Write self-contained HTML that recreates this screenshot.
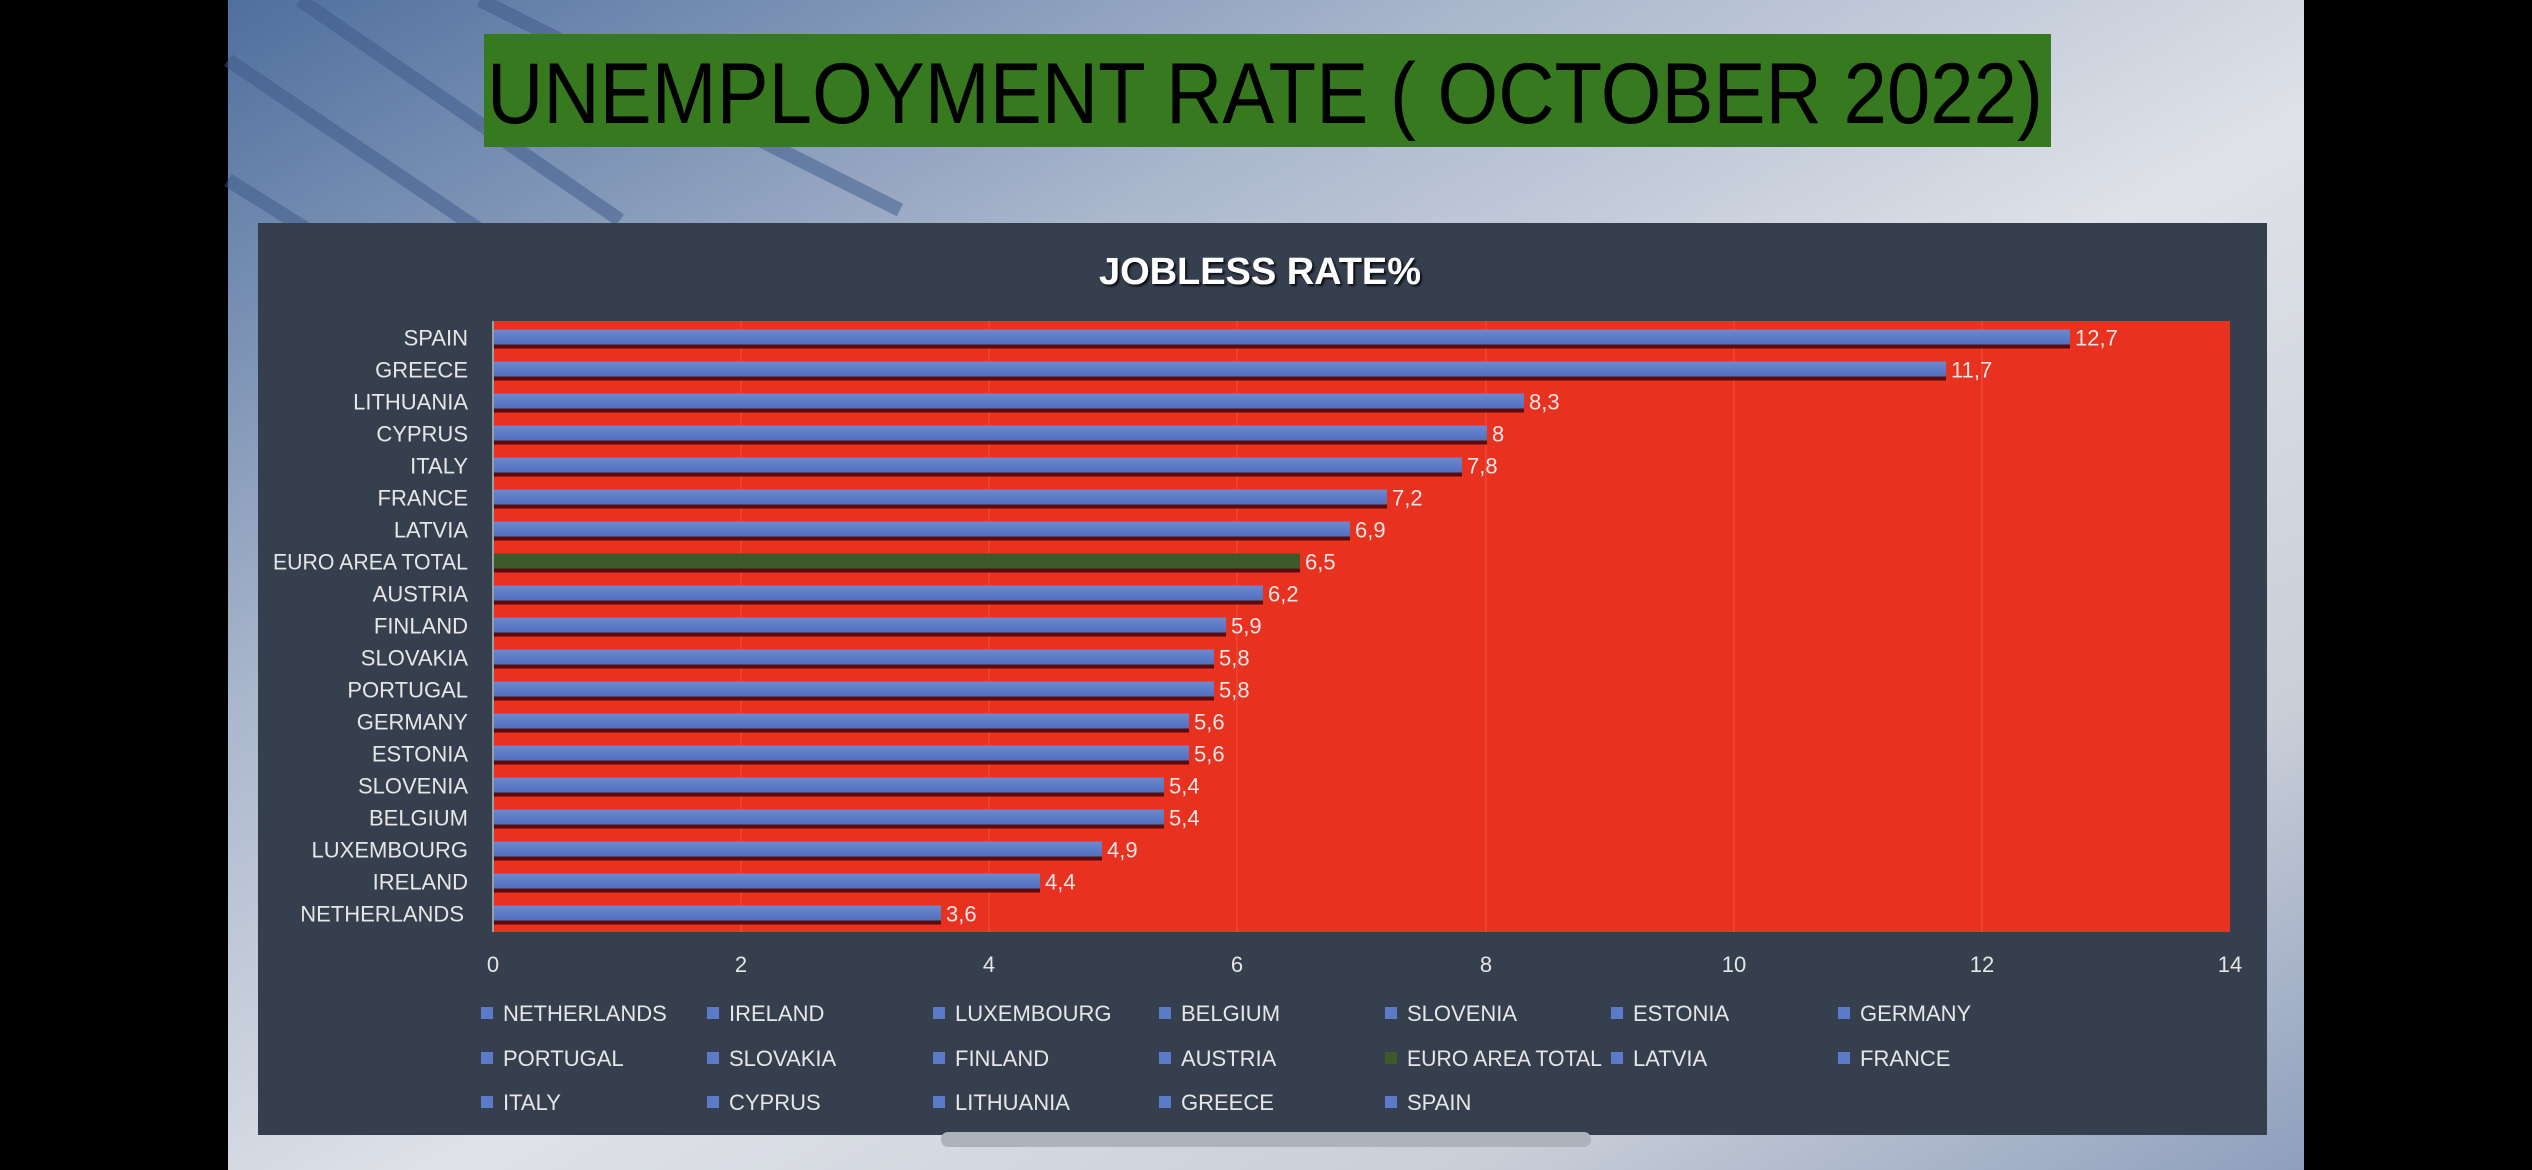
<!DOCTYPE html>
<html><head><meta charset="utf-8"><style>
html,body{margin:0;padding:0;background:#000;}
svg{display:block;font-family:"Liberation Sans",sans-serif;}
</style></head><body>
<svg width="2532" height="1170" viewBox="0 0 2532 1170" xmlns="http://www.w3.org/2000/svg">
<defs>
<linearGradient id="bg" x1="0" y1="0" x2="1" y2="1">
<stop offset="0" stop-color="#4f6f9e"/><stop offset="0.3" stop-color="#a9b6cc"/><stop offset="0.55" stop-color="#dfe2e8"/><stop offset="0.8" stop-color="#c9ced8"/><stop offset="1" stop-color="#8e9fbd"/>
</linearGradient>
<linearGradient id="bar" x1="0" y1="0" x2="0" y2="1"><stop offset="0" stop-color="#6d88cf"/><stop offset="1" stop-color="#4f6fc0"/></linearGradient>
<filter id="sh"><feDropShadow dx="2" dy="2" stdDeviation="1" flood-color="#000" flood-opacity="0.8"/></filter>
</defs>
<rect width="2532" height="1170" fill="#000"/>
<rect x="228" y="0" width="2076" height="1170" fill="url(#bg)"/>
<g stroke="#3e5a8a" stroke-width="14" opacity="0.5">
<line x1="228" y1="60" x2="480" y2="230"/><line x1="228" y1="180" x2="420" y2="300"/><line x1="300" y1="0" x2="620" y2="220"/><line x1="480" y1="0" x2="900" y2="210"/>
</g>
<rect x="484" y="34" width="1567" height="113" fill="#37791f"/>
<text x="487" y="123" font-size="86" fill="#000" textLength="1556" lengthAdjust="spacingAndGlyphs">UNEMPLOYMENT RATE ( OCTOBER 2022)</text>
<rect x="258" y="223" width="2009" height="912" fill="#363f4e"/>
<text x="1260" y="284" font-size="38" font-weight="bold" fill="#fff" text-anchor="middle" filter="url(#sh)" textLength="322" lengthAdjust="spacingAndGlyphs">JOBLESS RATE%</text>
<rect x="493" y="321" width="1737" height="611" fill="#e8321f"/>
<g stroke="#ea4636" stroke-width="1.5">
<line x1="741" y1="321" x2="741" y2="932"/><line x1="989" y1="321" x2="989" y2="932"/><line x1="1237" y1="321" x2="1237" y2="932"/><line x1="1486" y1="321" x2="1486" y2="932"/><line x1="1734" y1="321" x2="1734" y2="932"/><line x1="1982" y1="321" x2="1982" y2="932"/>
</g>
<line x1="493" y1="321" x2="493" y2="932" stroke="#9aa0aa" stroke-width="2"/>
<g font-size="22" fill="#e6e6e6">
<g transform="translate(0,337.5)"><rect x="494" y="7" width="1576" height="4" fill="#5a0c0c"/><rect x="494" y="-8" width="1576" height="15" fill="url(#bar)"/><text x="468" y="8" text-anchor="end">SPAIN</text><text x="2075" y="8">12,7</text></g>
<g transform="translate(0,369.5)"><rect x="494" y="7" width="1452" height="4" fill="#5a0c0c"/><rect x="494" y="-8" width="1452" height="15" fill="url(#bar)"/><text x="468" y="8" text-anchor="end">GREECE</text><text x="1951" y="8">11,7</text></g>
<g transform="translate(0,401.5)"><rect x="494" y="7" width="1030" height="4" fill="#5a0c0c"/><rect x="494" y="-8" width="1030" height="15" fill="url(#bar)"/><text x="468" y="8" text-anchor="end">LITHUANIA</text><text x="1529" y="8">8,3</text></g>
<g transform="translate(0,433.5)"><rect x="494" y="7" width="993" height="4" fill="#5a0c0c"/><rect x="494" y="-8" width="993" height="15" fill="url(#bar)"/><text x="468" y="8" text-anchor="end">CYPRUS</text><text x="1492" y="8">8</text></g>
<g transform="translate(0,465.5)"><rect x="494" y="7" width="968" height="4" fill="#5a0c0c"/><rect x="494" y="-8" width="968" height="15" fill="url(#bar)"/><text x="468" y="8" text-anchor="end">ITALY</text><text x="1467" y="8">7,8</text></g>
<g transform="translate(0,497.5)"><rect x="494" y="7" width="893" height="4" fill="#5a0c0c"/><rect x="494" y="-8" width="893" height="15" fill="url(#bar)"/><text x="468" y="8" text-anchor="end">FRANCE</text><text x="1392" y="8">7,2</text></g>
<g transform="translate(0,529.5)"><rect x="494" y="7" width="856" height="4" fill="#5a0c0c"/><rect x="494" y="-8" width="856" height="15" fill="url(#bar)"/><text x="468" y="8" text-anchor="end">LATVIA</text><text x="1355" y="8">6,9</text></g>
<g transform="translate(0,561.5)"><rect x="494" y="7" width="806" height="4" fill="#5a0c0c"/><rect x="494" y="-8" width="806" height="15" fill="#3f5a2a"/><text x="273" y="8" textLength="195" lengthAdjust="spacingAndGlyphs">EURO AREA TOTAL</text><text x="1305" y="8">6,5</text></g>
<g transform="translate(0,593.5)"><rect x="494" y="7" width="769" height="4" fill="#5a0c0c"/><rect x="494" y="-8" width="769" height="15" fill="url(#bar)"/><text x="468" y="8" text-anchor="end">AUSTRIA</text><text x="1268" y="8">6,2</text></g>
<g transform="translate(0,625.5)"><rect x="494" y="7" width="732" height="4" fill="#5a0c0c"/><rect x="494" y="-8" width="732" height="15" fill="url(#bar)"/><text x="468" y="8" text-anchor="end">FINLAND</text><text x="1231" y="8">5,9</text></g>
<g transform="translate(0,657.5)"><rect x="494" y="7" width="720" height="4" fill="#5a0c0c"/><rect x="494" y="-8" width="720" height="15" fill="url(#bar)"/><text x="468" y="8" text-anchor="end">SLOVAKIA</text><text x="1219" y="8">5,8</text></g>
<g transform="translate(0,689.5)"><rect x="494" y="7" width="720" height="4" fill="#5a0c0c"/><rect x="494" y="-8" width="720" height="15" fill="url(#bar)"/><text x="468" y="8" text-anchor="end">PORTUGAL</text><text x="1219" y="8">5,8</text></g>
<g transform="translate(0,721.5)"><rect x="494" y="7" width="695" height="4" fill="#5a0c0c"/><rect x="494" y="-8" width="695" height="15" fill="url(#bar)"/><text x="468" y="8" text-anchor="end">GERMANY</text><text x="1194" y="8">5,6</text></g>
<g transform="translate(0,753.5)"><rect x="494" y="7" width="695" height="4" fill="#5a0c0c"/><rect x="494" y="-8" width="695" height="15" fill="url(#bar)"/><text x="468" y="8" text-anchor="end">ESTONIA</text><text x="1194" y="8">5,6</text></g>
<g transform="translate(0,785.5)"><rect x="494" y="7" width="670" height="4" fill="#5a0c0c"/><rect x="494" y="-8" width="670" height="15" fill="url(#bar)"/><text x="468" y="8" text-anchor="end">SLOVENIA</text><text x="1169" y="8">5,4</text></g>
<g transform="translate(0,817.5)"><rect x="494" y="7" width="670" height="4" fill="#5a0c0c"/><rect x="494" y="-8" width="670" height="15" fill="url(#bar)"/><text x="468" y="8" text-anchor="end">BELGIUM</text><text x="1169" y="8">5,4</text></g>
<g transform="translate(0,849.5)"><rect x="494" y="7" width="608" height="4" fill="#5a0c0c"/><rect x="494" y="-8" width="608" height="15" fill="url(#bar)"/><text x="468" y="8" text-anchor="end">LUXEMBOURG</text><text x="1107" y="8">4,9</text></g>
<g transform="translate(0,881.5)"><rect x="494" y="7" width="546" height="4" fill="#5a0c0c"/><rect x="494" y="-8" width="546" height="15" fill="url(#bar)"/><text x="468" y="8" text-anchor="end">IRELAND</text><text x="1045" y="8">4,4</text></g>
<g transform="translate(0,913.5)"><rect x="494" y="7" width="447" height="4" fill="#5a0c0c"/><rect x="494" y="-8" width="447" height="15" fill="url(#bar)"/><text x="464" y="8" text-anchor="end">NETHERLANDS</text><text x="946" y="8">3,6</text></g>
</g>
<g font-size="22" fill="#e6e6e6" text-anchor="middle">
<text x="493" y="972">0</text><text x="741" y="972">2</text><text x="989" y="972">4</text><text x="1237" y="972">6</text><text x="1486" y="972">8</text><text x="1734" y="972">10</text><text x="1982" y="972">12</text><text x="2230" y="972">14</text>
</g>
<g font-size="22" fill="#e6e6e6">
<g fill="#5b7bc8">
<rect x="481" y="1007" width="12" height="12"/><rect x="707" y="1007" width="12" height="12"/><rect x="933" y="1007" width="12" height="12"/><rect x="1159" y="1007" width="12" height="12"/><rect x="1385" y="1007" width="12" height="12"/><rect x="1611" y="1007" width="12" height="12"/><rect x="1838" y="1007" width="12" height="12"/>
<rect x="481" y="1052" width="12" height="12"/><rect x="707" y="1052" width="12" height="12"/><rect x="933" y="1052" width="12" height="12"/><rect x="1159" y="1052" width="12" height="12"/><rect x="1385" y="1052" width="12" height="12" fill="#3f5a2a"/><rect x="1611" y="1052" width="12" height="12"/><rect x="1838" y="1052" width="12" height="12"/>
<rect x="481" y="1096" width="12" height="12"/><rect x="707" y="1096" width="12" height="12"/><rect x="933" y="1096" width="12" height="12"/><rect x="1159" y="1096" width="12" height="12"/><rect x="1385" y="1096" width="12" height="12"/>
</g>
<text x="503" y="1021">NETHERLANDS</text><text x="729" y="1021">IRELAND</text><text x="955" y="1021">LUXEMBOURG</text><text x="1181" y="1021">BELGIUM</text><text x="1407" y="1021">SLOVENIA</text><text x="1633" y="1021">ESTONIA</text><text x="1860" y="1021">GERMANY</text>
<text x="503" y="1066">PORTUGAL</text><text x="729" y="1066">SLOVAKIA</text><text x="955" y="1066">FINLAND</text><text x="1181" y="1066">AUSTRIA</text><text x="1407" y="1066" textLength="195" lengthAdjust="spacingAndGlyphs">EURO AREA TOTAL</text><text x="1633" y="1066">LATVIA</text><text x="1860" y="1066">FRANCE</text>
<text x="503" y="1110">ITALY</text><text x="729" y="1110">CYPRUS</text><text x="955" y="1110">LITHUANIA</text><text x="1181" y="1110">GREECE</text><text x="1407" y="1110">SPAIN</text>
</g>
<rect x="941" y="1132" width="650" height="15" rx="7" fill="#aeb2ba"/>
</svg>
</body></html>
